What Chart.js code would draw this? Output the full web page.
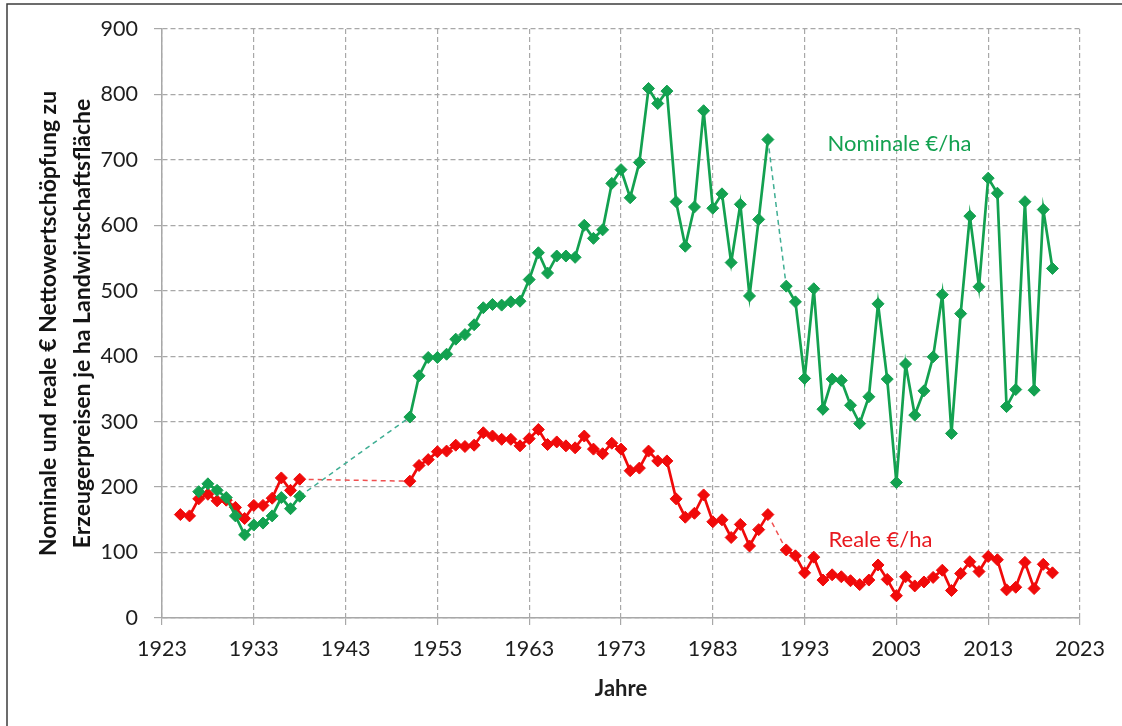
<!DOCTYPE html>
<html lang="de">
<head>
<meta charset="utf-8">
<title>Nettowertschöpfung je ha Landwirtschaftsfläche</title>
<script src="https://cdn.jsdelivr.net/npm/chart.js@4.4.1/dist/chart.umd.min.js"></script>
<style>
    html, body { margin: 0; padding: 0; background: #fff; }
    #wrap { width: 1122px; height: 726px; }
</style>
</head>
<body>
<div id="wrap"><canvas id="grafico" width="1122" height="726"></canvas></div>
<script>
// ===================================================================
// DATEN
// ===================================================================
const jahreNominal = [
    1927, 1928, 1929, 1930, 1931, 1932, 1933, 1934, 1935, 1936, 1937, 1938,
    1950, 1951, 1952, 1953, 1954, 1955, 1956, 1957, 1958, 1959, 1960, 1961, 1962, 1963, 1964,
    1965, 1966, 1967, 1968, 1969, 1970, 1971, 1972, 1973, 1974, 1975, 1976, 1977, 1978, 1979,
    1980, 1981, 1982, 1983, 1984, 1985, 1986, 1987, 1988, 1989,
    1991, 1992, 1993, 1994, 1995, 1996, 1997, 1998, 1999, 2000, 2001, 2002, 2003, 2004, 2005,
    2006, 2007, 2008, 2009, 2010, 2011, 2012, 2013, 2014, 2015, 2016, 2017, 2018, 2019, 2020
];
const werteNominal = [
    193, 205, 195, 184, 156, 127, 142, 145, 156, 184, 167, 186,
    307, 370, 398, 398, 403, 426, 433, 448, 474, 479, 478, 483, 484, 517, 558,
    527, 553, 553, 551, 600, 580, 593, 664, 685, 642, 696, 809, 786, 805, 636,
    568, 628, 775, 626, 648, 543, 632, 492, 609, 731,
    507, 483, 366, 503, 319, 365, 363, 325, 297, 338, 480, 365, 207, 388, 310,
    347, 399, 494, 282, 465, 614, 506, 672, 649, 323, 349, 636, 348, 624, 534
];

const jahreReal = [
    1925, 1926, 1927, 1928, 1929, 1930, 1931, 1932, 1933, 1934, 1935, 1936, 1937, 1938,
    1950, 1951, 1952, 1953, 1954, 1955, 1956, 1957, 1958, 1959, 1960, 1961, 1962, 1963, 1964,
    1965, 1966, 1967, 1968, 1969, 1970, 1971, 1972, 1973, 1974, 1975, 1976, 1977, 1978, 1979,
    1980, 1981, 1982, 1983, 1984, 1985, 1986, 1987, 1988, 1989,
    1991, 1992, 1993, 1994, 1995, 1996, 1997, 1998, 1999, 2000, 2001, 2002, 2003, 2004, 2005,
    2006, 2007, 2008, 2009, 2010, 2011, 2012, 2013, 2014, 2015, 2016, 2017, 2018, 2019, 2020
];
const werteReal = [
    158, 156, 182, 189, 179, 180, 169, 152, 172, 172, 183, 214, 195, 212,
    209, 233, 242, 254, 255, 264, 262, 264, 283, 278, 273, 273, 263, 274, 288,
    265, 269, 263, 260, 278, 258, 251, 267, 258, 225, 229, 255, 240, 240, 182,
    154, 160, 188, 147, 150, 123, 143, 110, 135, 158,
    104, 95, 69, 93, 58, 66, 63, 57, 51, 58, 81, 59, 34, 63, 49,
    55, 62, 73, 42, 68, 86, 71, 94, 89, 43, 47, 85, 45, 82, 69
];

// Achsen
const xMin = 1923, xMax = 2023, xSchritt = 10;
const yMin = 0, yMax = 900, ySchritt = 100;

// Beschriftungen der Reihen (Jahr / Wert, an dem der Text steht)
const serienTexte = [
    { text: 'Nominale €/ha', jahr: 1995.5, wert: 725, farbe: '#13a150' },
    { text: 'Reale €/ha', jahr: 1995.6, wert: 119, farbe: '#e8191f' }
];

// ===================================================================
// HILFSFUNKTIONEN
// ===================================================================
const GRUEN = '#13a150';
const ROT = '#f00a0a';
const SCHRIFT = 'Lato, "Open Sans", sans-serif';

function punkte(jahre, werte) {
    return jahre.map((j, i) => ({ x: j, y: werte[i] }));
}

// Lücke in den Jahren -> gestrichelte Verbindung
function luecke(ctx, wert) {
    return ctx.p1.parsed.x - ctx.p0.parsed.x > 1 ? wert : undefined;
}

function datensatz(label, daten, farbe, strichFarbe) {
    return {
        label: label,
        data: daten,
        borderColor: farbe,
        backgroundColor: farbe,
        borderWidth: 2.7,
        pointStyle: 'rectRot',
        pointRadius: 6,
        pointBorderWidth: 1,
        pointBackgroundColor: farbe,
        pointBorderColor: farbe,
        tension: 0,
        segment: {
            borderDash: ctx => luecke(ctx, [5, 4]),
            borderWidth: ctx => luecke(ctx, 1.5),
            borderColor: ctx => luecke(ctx, strichFarbe)
        }
    };
}

// Rahmen oben/links und weißer Hintergrund
const rahmenPlugin = {
    id: 'rahmen',
    beforeDraw(chart) {
        const c = chart.ctx;
        c.save();
        c.fillStyle = '#fff';
        c.fillRect(0, 0, chart.width, chart.height);
        c.strokeStyle = '#3c3c3c';
        c.lineWidth = 1.5;
        c.beginPath();
        c.moveTo(7, chart.height);
        c.lineTo(7, 4);
        c.lineTo(chart.width, 4);
        c.stroke();
        c.restore();
    }
};

// Texte "Nominale €/ha" und "Reale €/ha" im Diagramm
const serienTextPlugin = {
    id: 'serienText',
    afterDatasetsDraw(chart) {
        const c = chart.ctx;
        const sx = chart.scales.x, sy = chart.scales.y;
        c.save();
        c.font = '22px ' + SCHRIFT;
        c.textAlign = 'left';
        c.textBaseline = 'middle';
        serienTexte.forEach(t => {
            c.fillStyle = t.farbe;
            c.fillText(t.text, sx.getPixelForValue(t.jahr), sy.getPixelForValue(t.wert));
        });
        c.restore();
    }
};

// ===================================================================
// DIAGRAMM
// ===================================================================
const gitter = {
    color: '#a8a8a8',
    lineWidth: 1.2,
    tickLength: 8,
    tickColor: '#a8a8a8',
    tickBorderDash: []
};

new Chart(document.getElementById('grafico'), {
    type: 'line',
    data: {
        datasets: [
            datensatz('Nominale €/ha', punkte(jahreNominal, werteNominal), GRUEN, '#3fae93'),
            datensatz('Reale €/ha', punkte(jahreReal, werteReal), ROT, '#f05050')
        ]
    },
    options: {
        responsive: false,
        animation: false,
        layout: { padding: { left: 10, right: 42, top: 28, bottom: 0 } },
        plugins: {
            legend: { display: false },
            tooltip: { enabled: false }
        },
        scales: {
            x: {
                type: 'linear',
                min: xMin,
                max: xMax,
                afterFit: s => { s.height = 108; },
                ticks: {
                    stepSize: xSchritt,
                    padding: 11,
                    color: '#1e1e1e',
                    font: { family: SCHRIFT, size: 21.5 },
                    maxRotation: 0,
                    callback: v => String(v)
                },
                grid: Object.assign({}, gitter, { tickLength: 7 }),
                border: { display: true, color: '#a8a8a8', width: 1.5, dash: [5, 3] },
                title: {
                    display: true,
                    text: 'Jahre',
                    color: '#1e1e1e',
                    font: { family: SCHRIFT, size: 22, weight: 'bold' },
                    padding: { top: 0, bottom: 24 }
                }
            },
            y: {
                min: yMin,
                max: yMax,
                afterFit: s => { s.width = 152; },
                ticks: {
                    stepSize: ySchritt,
                    padding: 16,
                    color: '#1e1e1e',
                    font: { family: SCHRIFT, size: 21.5 }
                },
                grid: gitter,
                border: { display: true, color: '#a8a8a8', width: 1.5, dash: [5, 3] },
                title: {
                    display: true,
                    text: ['Nominale und reale € Nettowertschöpfung zu', 'Erzeugerpreisen je ha Landwirtschaftsfläche'],
                    color: '#141414',
                    font: { family: SCHRIFT, size: 23, weight: 'bold', lineHeight: 1.48 },
                    padding: { top: 22, bottom: 0 }
                }
            }
        }
    },
    plugins: [rahmenPlugin, serienTextPlugin]
});
</script>
</body>
</html>
